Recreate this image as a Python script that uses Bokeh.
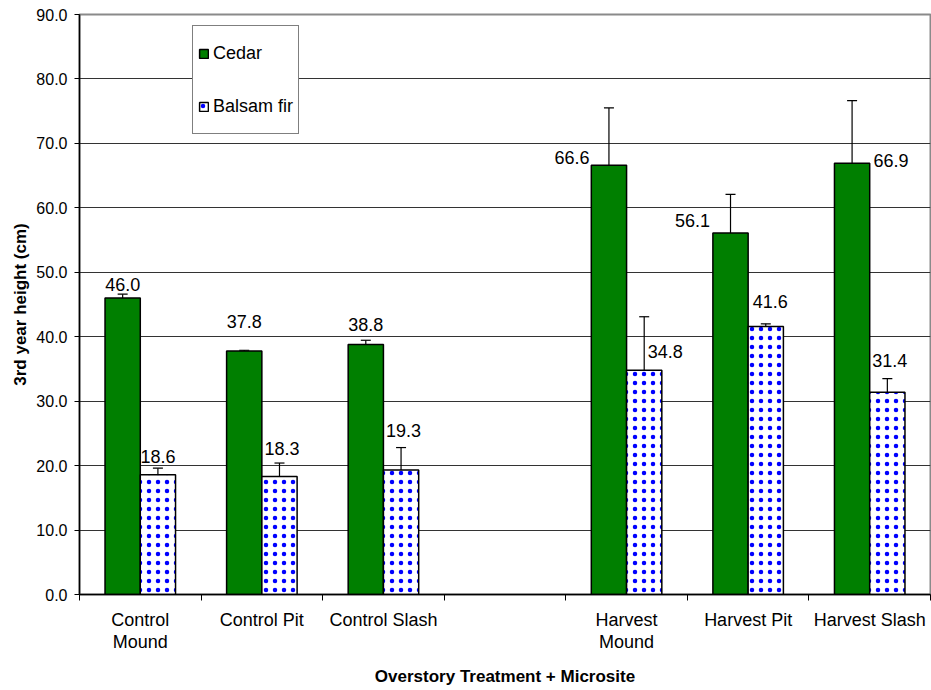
from bokeh.plotting import figure
from bokeh.models import (Range1d, FixedTicker, ColumnDataSource, Whisker, TeeHead,
                          Legend, LegendItem, NumeralTickFormatter)
from bokeh.core.properties import value
from bokeh.embed import file_html
from bokeh.resources import INLINE

# ---- data ----
tick_labels = ["Control\nMound", "Control Pit", "Control Slash", "",
               "Harvest\nMound", "Harvest Pit", "Harvest Slash"]
cedar = [46.0, 37.8, 38.8, 66.6, 56.1, 66.9]
cedar_err = [0.6, 0.1, 0.65, 8.9, 6.0, 9.75]
balsam = [18.6, 18.3, 19.3, 34.8, 41.6, 31.4]
balsam_err = [1.0, 2.1, 3.5, 8.3, 0.4, 2.1]
y_ticks = [0, 10, 20, 30, 40, 50, 60, 70, 80, 90]
series_names = ["Cedar", "Balsam fir"]
x_title = "Overstory Treatment + Microsite"
y_title = "3rd year height (cm)"

# ---- layout / style ----
FONT = "Liberation Sans"
GREEN = "#007F00"
BLUE = "#0000FF"
BAR_W = 0.29
slots = [i for i, t in enumerate(tick_labels) if t]
cedar_x = [s + 0.5 - BAR_W / 2 for s in slots]
balsam_x = [s + 0.5 + BAR_W / 2 for s in slots]

# label pixel offsets (placement like the original chart)
cedar_dx = [0, 0, 0, -37, -38, 39]
cedar_dy = [-14, -29, -20, -8, -12, -3]
balsam_dx = [0, 2.5, 2.5, 21, 4.5, 2.5]
balsam_dy = [-18, -28, -40, -19, -25, -32]

p = figure(width=931, height=690, output_backend="svg", toolbar_location=None,
           x_range=Range1d(0, 7), y_range=Range1d(0, 90),
           min_border_left=79, min_border_right=1, min_border_top=14,
           min_border_bottom=96)
p.background_fill_color = "white"
p.border_fill_color = "white"
p.outline_line_color = "#8a8a8a"
p.outline_line_width = 2

# grid
p.xgrid.grid_line_color = None
p.ygrid.grid_line_color = "#333333"
p.ygrid.grid_line_width = 1
p.ygrid.ticker = FixedTicker(ticks=y_ticks)

# y axis
p.yaxis.ticker = FixedTicker(ticks=y_ticks)
p.yaxis.formatter = NumeralTickFormatter(format="0.0")
p.yaxis.axis_label = y_title
p.yaxis.axis_label_text_font = FONT
p.yaxis.axis_label_text_font_style = "bold"
p.yaxis.axis_label_text_font_size = "17px"
p.yaxis.axis_label_text_color = "black"
p.yaxis.axis_label_standoff = 3
p.yaxis.major_label_text_font = FONT
p.yaxis.major_label_text_font_size = "16px"
p.yaxis.major_label_text_color = "black"
p.yaxis.major_tick_out = 5
p.yaxis.major_tick_in = 0
p.yaxis.minor_tick_line_color = None
p.yaxis.major_label_standoff = 7
p.yaxis.axis_line_color = "black"
p.yaxis.axis_line_width = 1.5

# x axis: labels at slot centres, tick marks at slot boundaries
centers = [i + 0.5 for i in range(len(tick_labels))]
bounds = list(range(len(tick_labels) + 1))
p.xaxis.ticker = FixedTicker(ticks=centers, minor_ticks=bounds)
p.xaxis.major_label_overrides = {c: t for c, t in zip(centers, tick_labels)}
p.xaxis.major_tick_line_color = None
p.xaxis.major_tick_out = 0
p.xaxis.major_tick_in = 0
p.xaxis.minor_tick_line_color = "black"
p.xaxis.minor_tick_out = 6
p.xaxis.minor_tick_in = 0
p.xaxis.major_label_standoff = 9
p.xaxis.major_label_text_font = FONT
p.xaxis.major_label_text_font_size = "18px"
p.xaxis.major_label_text_color = "black"
p.xaxis.major_label_text_line_height = 1.1
p.xaxis.axis_label = x_title
p.xaxis.axis_label_text_font = FONT
p.xaxis.axis_label_text_font_style = "bold"
p.xaxis.axis_label_text_font_size = "17px"
p.xaxis.axis_label_text_color = "black"
p.xaxis.axis_label_standoff = 12
p.xaxis.axis_line_color = "black"
p.xaxis.axis_line_width = 1.5

# bars
src_c = ColumnDataSource(dict(x=cedar_x, top=cedar,
                              lo=[v - e for v, e in zip(cedar, cedar_err)],
                              hi=[v + e for v, e in zip(cedar, cedar_err)],
                              txt=[f"{v:.1f}" for v in cedar],
                              dx=cedar_dx, dy=cedar_dy))
src_b = ColumnDataSource(dict(x=balsam_x, top=balsam,
                              lo=[v - e for v, e in zip(balsam, balsam_err)],
                              hi=[v + e for v, e in zip(balsam, balsam_err)],
                              txt=[f"{v:.1f}" for v in balsam],
                              dx=balsam_dx, dy=balsam_dy))

r_c = p.vbar(x="x", top="top", width=BAR_W, bottom=0, source=src_c,
             fill_color=GREEN, line_color="black", line_width=1.5)
r_b = p.vbar(x="x", top="top", width=BAR_W, bottom=0, source=src_b,
             fill_color="white", line_color="black", line_width=1.5,
             hatch_pattern="dot", hatch_color=BLUE, hatch_scale=9, hatch_weight=3)

for src in (src_c, src_b):
    w = Whisker(base="x", lower="lo", upper="hi", source=src,
                line_color="black", line_width=1.2,
                upper_head=TeeHead(size=10, line_color="black", line_width=1.2),
                lower_head=TeeHead(size=10, line_color="black", line_width=1.2))
    p.add_layout(w)

for src in (src_c, src_b):
    p.text(x="x", y="top", text="txt", x_offset="dx", y_offset="dy", source=src,
           text_align="center", text_baseline="middle",
           text_font=value(FONT), text_font_size="18px", text_color="black")

legend = Legend(items=[LegendItem(label=series_names[0], renderers=[r_c]),
                       LegendItem(label=series_names[1], renderers=[r_b])],
                location=(113, 460), orientation="vertical",
                glyph_width=11, glyph_height=11, label_height=44, spacing=9,
                padding=5, margin=0, label_standoff=4,
                label_text_font=FONT, label_text_font_size="18px",
                label_text_color="black",
                border_line_color="black", border_line_width=1,
                background_fill_color="white", background_fill_alpha=1)
p.add_layout(legend)

open("out.html", "w").write(file_html(p, INLINE))
